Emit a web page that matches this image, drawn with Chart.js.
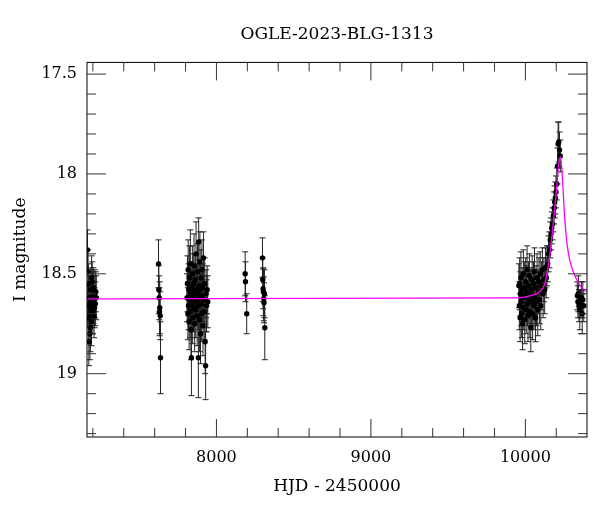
<!DOCTYPE html>
<html><head><meta charset="utf-8">
<script src="https://cdn.jsdelivr.net/npm/chart.js@4"></script>
<style>html,body{margin:0;padding:0;background:#fff}</style>
</head><body>
<canvas id="c" width="600" height="512"></canvas>
<script>
const titleText = "OGLE-2023-BLG-1313";
const xTitle = "HJD - 2450000";
const yTitle = "I magnitude";
const xTicks = [8000, 9000, 10000];
const yTicks = [17.5, 18, 18.5, 19];

// Observations: HJD-2450000, I magnitude, error
const obsHJD = [
  7165,7167,7170,7171,7174,7177,7178,7181,7183,7186,7188,7191,7192,7195,7198,7200,7203,7205,7208,7211,7213,7216,7219,7222,7169,7184,7196,
  7625,7627,7629,7631,7633,7636,7638,
  7810,7812,7815,7817,7819,7821,7823,7825,7827,7829,7831,7833,7835,7838,7840,7842,7844,7846,7848,7850,7852,7855,7857,7859,7861,7863,7866,7868,7870,7872,7875,7877,7879,7881,7883,7885,7887,7889,7891,7893,7895,7897,7900,7902,7904,7906,7909,7911,7913,7916,7918,7921,7924,7927,7930,7933,7936,7940,7944,
  8186,8188,8196,
  8298,8300,8302,8304,8306,8308,8311,8313,
  9958,9961,9963,9966,9968,9971,9973,9976,9979,9982,9985,9987,9990,9993,9996,9999,10002,10005,10008,10011,10014,10017,10020,10023,10026,10029,10032,10035,10038,10041,10044,10047,10050,10053,10056,10059,10062,10066,10069,10072,10076,10080,10084,10088,10092,10096,10100,10105,10110,10115,10120,10125,10130,10135,10140,
  10145,10150,10156,10161,10166,10171,10176,10181,10186,10190,10194,10198,10203,10208,10212,10216,10221,10226,
  10336,10340,10343,10347,10352,10358,10363,10368,10372,10378
];
const obsMag = [
  18.38,18.66,18.72,18.55,18.84,18.62,18.70,18.80,18.58,18.68,18.64,18.74,18.52,18.66,18.61,18.69,18.57,18.63,18.71,18.67,18.60,18.65,18.59,18.62,18.49,18.77,18.54,
  18.45,18.58,18.62,18.69,18.67,18.71,18.92,
  18.62,18.55,18.70,18.48,18.66,18.58,18.74,18.52,18.63,18.69,18.45,18.60,18.78,18.92,18.57,18.65,18.50,18.72,18.61,18.55,18.67,18.46,18.59,18.75,18.63,18.53,18.68,18.40,18.58,18.64,18.71,18.49,18.60,18.66,18.92,18.34,18.56,18.62,18.73,18.44,18.58,18.80,18.52,18.65,18.70,18.48,18.61,18.57,18.76,18.42,18.63,18.69,18.55,18.84,18.96,18.60,18.66,18.58,18.64,
  18.50,18.54,18.70,
  18.42,18.53,18.575,18.59,18.625,18.645,18.60,18.77,
  18.56,18.66,18.55,18.72,18.60,18.52,18.64,18.70,18.58,18.75,18.62,18.50,18.67,18.57,18.73,18.61,18.54,18.68,18.59,18.48,18.65,18.71,18.56,18.63,18.51,18.69,18.60,18.77,18.58,18.64,18.53,18.70,18.61,18.55,18.66,18.49,18.62,18.72,18.57,18.64,18.52,18.68,18.59,18.54,18.63,18.50,18.66,18.56,18.48,18.60,18.53,18.58,18.47,18.52,18.46,
  18.45,18.40,18.38,18.33,18.30,18.27,18.25,18.21,18.17,18.14,18.12,18.09,18.05,17.96,17.85,17.84,17.88,17.91,
  18.61,18.64,18.60,18.66,18.68,18.65,18.62,18.70,18.63,18.66
];
const obsErr = [
  0.10,0.11,0.12,0.10,0.12,0.11,0.10,0.13,0.11,0.12,0.10,0.12,0.11,0.10,0.12,0.11,0.10,0.12,0.11,0.10,0.12,0.11,0.10,0.11,0.11,0.12,0.10,
  0.12,0.12,0.11,0.12,0.13,0.12,0.18,
  0.12,0.14,0.13,0.15,0.12,0.13,0.14,0.16,0.12,0.13,0.17,0.12,0.15,0.19,0.13,0.12,0.14,0.13,0.12,0.15,0.12,0.16,0.13,0.14,0.12,0.13,0.14,0.16,0.13,0.12,0.15,0.14,0.13,0.12,0.20,0.12,0.13,0.12,0.16,0.15,0.13,0.15,0.14,0.12,0.14,0.15,0.13,0.12,0.15,0.13,0.12,0.14,0.13,0.16,0.17,0.12,0.13,0.12,0.13,
  0.11,0.10,0.10,
  0.10,0.11,0.10,0.12,0.11,0.10,0.12,0.16,
  0.11,0.12,0.13,0.12,0.11,0.13,0.12,0.12,0.11,0.13,0.12,0.12,0.11,0.13,0.12,0.11,0.12,0.12,0.13,0.12,0.11,0.13,0.12,0.12,0.11,0.13,0.12,0.12,0.11,0.12,0.12,0.13,0.12,0.11,0.12,0.12,0.13,0.12,0.11,0.12,0.12,0.13,0.11,0.12,0.12,0.11,0.12,0.12,0.11,0.12,0.11,0.12,0.10,0.10,0.10,
  0.09,0.09,0.09,0.09,0.08,0.08,0.08,0.08,0.08,0.08,0.08,0.08,0.08,0.09,0.11,0.10,0.09,0.08,
  0.07,0.08,0.09,0.08,0.10,0.07,0.08,0.10,0.09,0.08
];

// Fitted model curve
const modelHJD = [7162,9950,10050,10093,10125,10157,10183,10200,10215,10227,10240,10253,10270,10287,10310,10330,10360,10399];
const modelMag = [18.625,18.62,18.605,18.59,18.55,18.415,18.23,18.09,17.96,17.915,18.02,18.2,18.35,18.43,18.49,18.525,18.565,18.59];

const serif = "'DejaVu Serif', 'Liberation Serif', serif";
const xMinorStep = 200, xMajorStep = 1000, yMinorStep = 0.1, yMajorStep = 0.5;

const centerTitle = {
  id: 'centerTitle',
  afterLayout(chart) {
    const t = chart.titleBlock;
    if (t) { t.left = chart.chartArea.left; t.right = chart.chartArea.right; t.width = t.right - t.left; }
  }
};

const errorBars = {
  id: 'errorBars',
  beforeDatasetsDraw(chart) {
    const {ctx, chartArea: a, scales: {x, y}} = chart;
    ctx.save();
    ctx.beginPath(); ctx.rect(a.left, a.top, a.right - a.left, a.bottom - a.top); ctx.clip();
    ctx.strokeStyle = '#222'; ctx.lineWidth = 1;
    ctx.beginPath();
    for (let i = 0; i < obsHJD.length; i++) {
      const px = x.getPixelForValue(obsHJD[i]);
      const y1 = y.getPixelForValue(obsMag[i] - obsErr[i]);
      const y2 = y.getPixelForValue(obsMag[i] + obsErr[i]);
      ctx.moveTo(px, y1); ctx.lineTo(px, y2);
      ctx.moveTo(px - 3, y1); ctx.lineTo(px + 3, y1);
      ctx.moveTo(px - 3, y2); ctx.lineTo(px + 3, y2);
    }
    ctx.stroke();
    ctx.restore();
  }
};

const frame = {
  id: 'frame',
  afterDraw(chart) {
    const {ctx, chartArea: a, scales: {x, y}} = chart;
    ctx.save();
    ctx.strokeStyle = '#000'; ctx.lineWidth = 1;
    ctx.strokeRect(a.left, a.top, a.right - a.left, a.bottom - a.top);
    ctx.strokeStyle = '#333';
    ctx.beginPath();
    const x0 = Math.ceil(x.min / xMinorStep) * xMinorStep;
    for (let v = x0; v <= x.max; v += xMinorStep) {
      const px = x.getPixelForValue(v);
      const len = (v % xMajorStep === 0) ? 18 : 9;
      ctx.moveTo(px, a.bottom); ctx.lineTo(px, a.bottom - len);
      ctx.moveTo(px, a.top); ctx.lineTo(px, a.top + len);
    }
    const n0 = Math.ceil(y.min / yMinorStep - 1e-6);
    for (let k = n0; k * yMinorStep <= y.max + 1e-6; k++) {
      const v = k * yMinorStep;
      const py = y.getPixelForValue(v);
      const major = Math.abs(v / yMajorStep - Math.round(v / yMajorStep)) < 1e-6;
      const len = major ? 19 : 9;
      ctx.moveTo(a.left, py); ctx.lineTo(a.left + len, py);
      ctx.moveTo(a.right, py); ctx.lineTo(a.right - len, py);
    }
    ctx.stroke();
    ctx.restore();
  }
};

new Chart(document.getElementById('c'), {
  type: 'scatter',
  data: {
    datasets: [
      {
        label: 'model',
        data: modelHJD.map((v, i) => ({x: v, y: modelMag[i]})),
        showLine: true, borderColor: '#ff00ff', borderWidth: 1.3,
        pointRadius: 0, cubicInterpolationMode: 'monotone', fill: false
      },
      {
        label: 'data',
        data: obsHJD.map((v, i) => ({x: v, y: obsMag[i]})),
        showLine: false, pointRadius: 2.7, pointBackgroundColor: '#000',
        pointBorderColor: '#000', pointBorderWidth: 0
      }
    ]
  },
  options: {
    responsive: false, animation: false, devicePixelRatio: 1,
    layout: {padding: {left: 0, right: 13, top: 0, bottom: 0}},
    plugins: {
      legend: {display: false}, tooltip: {enabled: false},
      title: {display: true, text: titleText, color: '#000',
        font: {family: serif, size: 17, weight: 'normal'}, padding: {top: 24, bottom: 18}}
    },
    scales: {
      x: {
        type: 'linear', position: 'bottom', min: 7162, max: 10399,
        grid: {display: false, drawTicks: false}, border: {display: false},
        afterBuildTicks: s => { s.ticks = xTicks.map(v => ({value: v})); },
        afterFit: s => { s.height = 75; },
        ticks: {color: '#000', font: {family: serif, size: 16}, padding: 11, maxRotation: 0, autoSkip: false,
          callback: v => String(v)},
        title: {display: true, text: xTitle, color: '#000', font: {family: serif, size: 17}, padding: {top: 0, bottom: 15}}
      },
      y: {
        type: 'linear', reverse: true, min: 17.4415, max: 19.317,
        grid: {display: false, drawTicks: false}, border: {display: false},
        afterBuildTicks: s => { s.ticks = yTicks.map(v => ({value: v})); },
        afterFit: s => { s.width = 87; },
        ticks: {color: '#000', font: {family: serif, size: 16}, padding: 10, autoSkip: false,
          callback: v => String(v)},
        title: {display: true, text: yTitle, color: '#000', font: {family: serif, size: 17}, padding: {top: 10, bottom: 0}}
      }
    }
  },
  plugins: [centerTitle, errorBars, frame]
});
</script>
</body></html>
